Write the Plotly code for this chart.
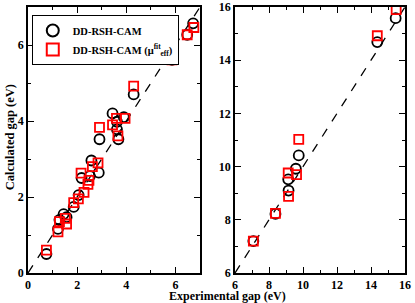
import plotly.graph_objects as go

# Left panel data (experimental gap, calculated gap) in eV
left_circ_x = [0.75, 1.22, 1.28, 1.45, 1.57, 1.86, 2.06, 2.18, 2.52, 2.88, 2.58, 2.91, 3.68, 3.62, 3.62, 3.44, 3.90, 4.30, 5.86, 6.48, 6.72]
left_circ_y = [0.50, 1.16, 1.40, 1.55, 1.47, 1.74, 2.05, 2.50, 2.55, 2.64, 2.96, 3.52, 3.52, 3.78, 3.98, 4.20, 4.10, 4.70, 5.61, 6.27, 6.57]
left_sq_x = [0.75, 1.22, 1.28, 1.52, 1.57, 1.86, 2.05, 2.28, 2.44, 2.48, 2.16, 2.62, 2.85, 2.91, 3.66, 3.44, 3.60, 3.95, 4.30, 5.86, 6.48, 6.75]
left_sq_y = [0.60, 1.08, 1.35, 1.44, 1.29, 1.85, 1.95, 2.12, 2.33, 2.44, 2.63, 2.80, 2.90, 3.83, 3.61, 3.90, 4.07, 4.07, 4.92, 5.61, 6.27, 6.46]

# Right panel data
right_circ_x = [7.08, 8.38, 9.15, 9.13, 9.58, 9.75, 14.37, 15.45]
right_circ_y = [7.20, 8.22, 9.10, 9.52, 9.92, 10.42, 14.68, 15.58]
right_sq_x = [7.08, 8.38, 9.15, 9.13, 9.62, 9.75, 14.37, 15.48]
right_sq_y = [7.20, 8.24, 8.88, 9.76, 9.70, 11.02, 14.92, 15.90]

diag_left = [0, 7]
diag_right = [6, 16]

name_circ = "DD-RSH-CAM"
name_sq = "DD-RSH-CAM (μ<sup>fit</sup><sub>eff</sub>)"

FONT = "Liberation Serif"

fig = go.Figure()

circ_marker = dict(symbol="circle-open", size=10, color="black", line=dict(width=1.8, color="black"))
sq_marker = dict(symbol="square-open", size=9, color="red", line=dict(width=1.8, color="red"))

fig.add_trace(go.Scatter(x=diag_left, y=diag_left, mode="lines", line=dict(color="black", dash="dash", width=1.3),
                         showlegend=False, xaxis="x", yaxis="y", hoverinfo="skip"))
fig.add_trace(go.Scatter(x=diag_right, y=diag_right, mode="lines", line=dict(color="black", dash="dash", width=1.3),
                         showlegend=False, xaxis="x2", yaxis="y2", hoverinfo="skip"))

fig.add_trace(go.Scatter(x=left_circ_x, y=left_circ_y, mode="markers", marker=circ_marker, name=name_circ,
                         xaxis="x", yaxis="y"))
fig.add_trace(go.Scatter(x=left_sq_x, y=left_sq_y, mode="markers", marker=sq_marker, name=name_sq,
                         xaxis="x", yaxis="y"))
fig.add_trace(go.Scatter(x=right_circ_x, y=right_circ_y, mode="markers", marker=circ_marker, showlegend=False,
                         xaxis="x2", yaxis="y2"))
fig.add_trace(go.Scatter(x=right_sq_x, y=right_sq_y, mode="markers", marker=sq_marker, showlegend=False,
                         xaxis="x2", yaxis="y2"))

tickfont = dict(family=FONT, size=12, color="black", weight="bold")

def axis(rng, domain, anchor, dtick=2):
    return dict(range=rng, domain=domain, anchor=anchor, dtick=dtick, tick0=0,
                ticks="inside", ticklen=6, tickwidth=1.3, tickcolor="black",
                minor=dict(dtick=1, ticks="inside", ticklen=3, tickwidth=1.3, tickcolor="black"),
                showline=True, linecolor="black", linewidth=1.5, mirror="allticks",
                showgrid=False, zeroline=False, tickfont=tickfont, ticklabelstandoff=0,
                ticklabeloverflow="allow", automargin=False)

W, H = 415, 303
ml, mr, mt, mb = 28, 10, 7, 30
pw = W - ml - mr
fig.update_layout(
    width=W, height=H,
    margin=dict(l=ml, r=mr, t=mt, b=mb, autoexpand=False),
    paper_bgcolor="white", plot_bgcolor="white",
    xaxis=axis([0, 7], [0, 172 / pw], "y"),
    yaxis=axis([0, 7], [0, 1], "x"),
    xaxis2=axis([6, 16], [207 / pw, 1], "y2"),
    yaxis2=axis([6, 16], [0, 1], "x2"),
    showlegend=True,
    legend=dict(x=0.01, y=0.97, xanchor="left", yanchor="top",
                bordercolor="black", borderwidth=1, bgcolor="white",
                font=dict(family=FONT, size=10.5, color="black", weight="bold"),
                itemsizing="constant", itemwidth=30, tracegroupgap=0),
    annotations=[
        dict(text="<b>Calculated gap (eV)</b>", xref="paper", yref="paper", x=-0.048, y=0.51,
             textangle=-90, showarrow=False, xanchor="center", yanchor="middle",
             font=dict(family=FONT, size=12.5, color="black")),
        dict(text="<b>Experimental gap (eV)</b>", xref="paper", yref="paper", x=0.528, y=-0.086,
             showarrow=False, xanchor="center", yanchor="middle",
             font=dict(family=FONT, size=12, color="black")),
    ],
)

fig.write_html("out.html", config={"displayModeBar": False},
               post_script="document.body.style.margin='0';document.body.style.padding='0';")
